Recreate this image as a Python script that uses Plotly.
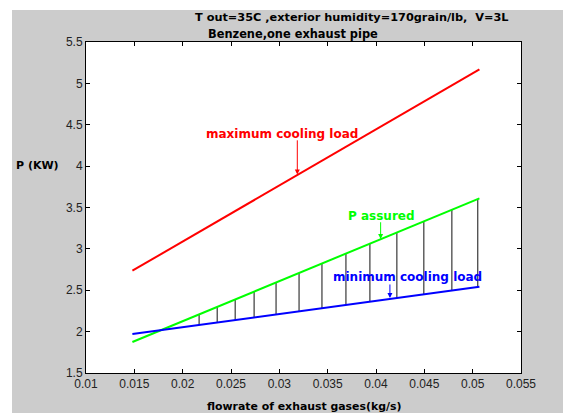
import plotly.graph_objects as go

# Data
flow_ends = [0.0148, 0.0507]
p_max = [2.736, 5.17]      # maximum cooling load
p_assured = [1.875, 3.611] # P assured
p_min = [1.971, 2.543]     # minimum cooling load

hatch_x = [0.0217, 0.02357, 0.02543, 0.02739, 0.02966, 0.03204, 0.03441,
           0.03689, 0.03937, 0.04216, 0.04495, 0.04785, 0.05053]
hatch_top = [2.209, 2.299, 2.389, 2.484, 2.594, 2.709, 2.823,
             2.943, 3.063, 3.198, 3.333, 3.473, 3.603]
hatch_bot = [2.081, 2.111, 2.140, 2.172, 2.208, 2.246, 2.283,
             2.323, 2.362, 2.407, 2.451, 2.497, 2.540]

x_ticks = [0.01, 0.015, 0.02, 0.025, 0.03, 0.035, 0.04, 0.045, 0.05, 0.055]
x_tick_labels = ["0.01", "0.015", "0.02", "0.025", "0.03", "0.035", "0.04", "0.045", "0.05", "0.055"]
y_ticks = [1.5, 2, 2.5, 3, 3.5, 4, 4.5, 5, 5.5]
y_tick_labels = ["1.5", "2", "2.5", "3", "3.5", "4", "4.5", "5", "5.5"]

# labels: (text, text x, text y, arrow x, arrow tail y, arrow tip y, colour)
labels = [
    ("maximum cooling load", 0.03028, 4.388, 0.03186, 4.33, 3.90, "#ff0000"),
    ("P assured", 0.04056, 3.397, 0.04048, 3.34, 3.118, "#00ff00"),
    ("minimum cooling load", 0.04324, 2.66, 0.04144, 2.588, 2.406, "#0000ff"),
]

FONT = "Liberation Sans, Arial, sans-serif"
BFONT = "DejaVu Sans, sans-serif"

fig = go.Figure()

hx, hy = [], []
for x, t, b in zip(hatch_x, hatch_top, hatch_bot):
    hx += [x, x, None]
    hy += [b, t, None]
fig.add_trace(go.Scatter(x=hx, y=hy, mode="lines",
                         line=dict(color="#111111", width=1), hoverinfo="skip"))

fig.add_trace(go.Scatter(x=flow_ends, y=p_max, mode="lines",
                         line=dict(color="#ff0000", width=2)))
fig.add_trace(go.Scatter(x=flow_ends, y=p_assured, mode="lines",
                         line=dict(color="#00ff00", width=2)))
fig.add_trace(go.Scatter(x=flow_ends, y=p_min, mode="lines",
                         line=dict(color="#0000ff", width=2)))

annotations = []
for text, tx, ty, ax_, tail, tip, col in labels:
    annotations.append(dict(x=tx, y=ty, xref="x", yref="y", text="<b>%s</b>" % text,
                            showarrow=False, font=dict(family=BFONT, size=12, color=col)))
    annotations.append(dict(x=ax_, y=tip, xref="x", yref="y", ax=ax_, ay=tail,
                            axref="x", ayref="y", text="", showarrow=True,
                            arrowhead=2, arrowsize=1, arrowwidth=1, arrowcolor=col))

# title lines (paper coords relative to plot area)
pw, ph = 435.0, 331.0
def px(xp):
    return (xp - 86) / pw
def py(yp):
    return (373 - yp) / ph

annotations.append(dict(x=px(193), y=py(17), xref="paper", yref="paper", xanchor="left",
                        yanchor="middle", showarrow=False,
                        text="<b>T out=35C ,exterior humidity=170grain/lb,  V=3L</b>",
                        font=dict(family=BFONT, size=11.3, color="black")))
annotations.append(dict(x=px(206), y=py(34), xref="paper", yref="paper", xanchor="left",
                        yanchor="middle", showarrow=False,
                        text="<b>Benzene,one exhaust pipe</b>",
                        font=dict(family=BFONT, size=11.4, color="black")))
annotations.append(dict(x=px(37), y=py(165), xref="paper", yref="paper", xanchor="center",
                        yanchor="middle", showarrow=False, text="<b>P (KW)</b>",
                        font=dict(family=BFONT, size=11, color="black")))
annotations.append(dict(x=px(304), y=py(406), xref="paper", yref="paper", xanchor="center",
                        yanchor="middle", showarrow=False,
                        text="<b>flowrate of exhaust gases(kg/s)</b>",
                        font=dict(family=BFONT, size=10.9, color="black")))

shapes = [
    dict(type="rect", xref="paper", yref="paper", x0=px(0), x1=px(12), y0=py(413), y1=py(0),
         fillcolor="white", line=dict(width=0), layer="above"),
    dict(type="rect", xref="paper", yref="paper", x0=px(0), x1=px(563), y0=py(10), y1=py(0),
         fillcolor="white", line=dict(width=0), layer="above"),
]

axis_common = dict(showgrid=False, zeroline=False, showline=True, linecolor="black",
                   linewidth=1, mirror="ticks", ticks="inside", ticklen=4,
                   tickcolor="black", tickfont=dict(family=FONT, size=12, color="#222222"))

fig.update_layout(
    width=563, height=413,
    margin=dict(l=86, r=42, t=42, b=40),
    paper_bgcolor="#cccccc", plot_bgcolor="white",
    showlegend=False,
    xaxis=dict(range=[0.01, 0.055], tickvals=x_ticks, ticktext=x_tick_labels, **axis_common),
    yaxis=dict(range=[1.5, 5.5], tickvals=y_ticks, ticktext=y_tick_labels, **axis_common),
    annotations=annotations,
    shapes=shapes,
)

fig.write_html("out.html")
